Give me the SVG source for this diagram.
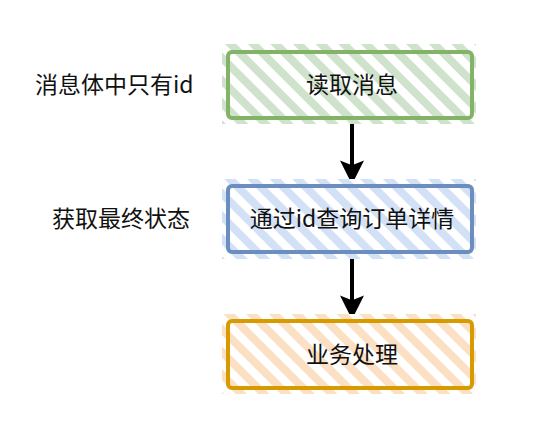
<svg xmlns="http://www.w3.org/2000/svg" width="556" height="442" viewBox="0 0 556 442">
<defs>
<pattern id="hg" width="16" height="16" patternUnits="userSpaceOnUse" patternTransform="rotate(-45)"><rect width="16" height="16" fill="#ffffff"/><rect width="8" height="16" fill="#cfe3cc"/></pattern>
<pattern id="hb" width="16" height="16" patternUnits="userSpaceOnUse" patternTransform="rotate(-45)"><rect width="16" height="16" fill="#ffffff"/><rect width="8" height="16" fill="#d3e1f6"/></pattern>
<pattern id="ho" width="16" height="16" patternUnits="userSpaceOnUse" patternTransform="rotate(-45)"><rect width="16" height="16" fill="#ffffff"/><rect width="8" height="16" fill="#fbe0c4"/></pattern>
<marker id="ah" viewBox="0 0 10 10" refX="9" refY="5" markerWidth="6" markerHeight="6" orient="auto"><path d="M0,0 L10,5 L0,10 L2,5 Z" fill="#000"/></marker>
</defs>
<style>
text{font-family:"Noto Sans CJK SC","Liberation Sans",sans-serif;font-size:23px;fill:#111}
.c{text-anchor:middle}
.box{stroke-width:4;stroke-linejoin:round}
</style>
<rect width="556" height="442" fill="#ffffff"/>
<g id="labels">
<text x="35" y="93">消息体中只有id</text>
<text x="52" y="227">获取最终状态</text>
</g>
<g id="connectors" stroke="#000" stroke-width="4" fill="none">
<line x1="352" y1="120" x2="352" y2="182" marker-end="url(#ah)"/>
<line x1="352" y1="254" x2="352" y2="317" marker-end="url(#ah)"/>
</g>
<g id="n1">
<rect x="222" y="44" width="254" height="80" fill="url(#hg)"/>
<rect class="box" x="228" y="52" width="244" height="66" rx="4" fill="none" stroke="#82b366"/>
<text class="c" x="352" y="93">读取消息</text>
</g>
<g id="n2">
<rect x="222" y="179" width="254" height="80" fill="url(#hb)"/>
<rect class="box" x="228" y="186" width="244" height="66" rx="4" fill="none" stroke="#6c8ebf"/>
<text class="c" x="352" y="227">通过id查询订单详情</text>
</g>
<g id="n3">
<rect x="222" y="314" width="254" height="80" fill="url(#ho)"/>
<rect class="box" x="228" y="321" width="244" height="67" rx="4" fill="none" stroke="#d79b00"/>
<text class="c" x="352" y="363">业务处理</text>
</g>
</svg>
